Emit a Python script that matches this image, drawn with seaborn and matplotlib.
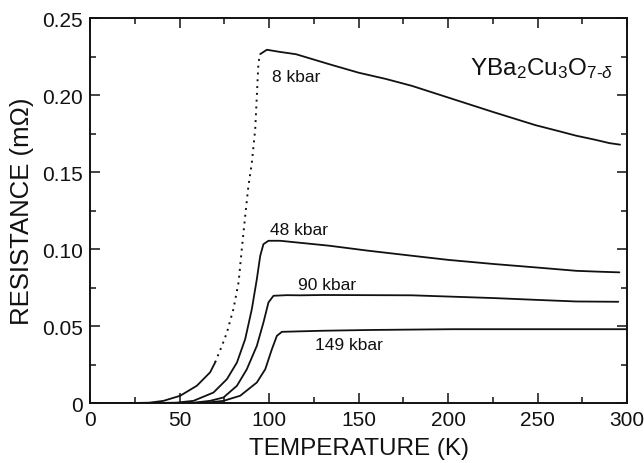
import numpy as np
import pandas as pd
import matplotlib
matplotlib.use("Agg")
import matplotlib.pyplot as plt
import seaborn as sns
from matplotlib.ticker import MultipleLocator, FixedFormatter, FixedLocator

# ---- data (T in K, R in mOhm) ----
t_8 = [0, 20, 33, 41, 50.3, 59.6, 67, 69.8, 73.6, 76.4, 80, 82.9, 84.7, 86.6, 88.4, 90.3, 92.2, 93.1, 94, 95, 98.7, 106, 115, 133.6, 150, 165, 179.6, 202.6, 225.6, 248.6, 262, 271.5, 282, 290, 296]
r_8 = [0, 0, 0.0003, 0.0015, 0.0048, 0.0113, 0.020, 0.0264, 0.0372, 0.0459, 0.061, 0.0784, 0.100, 0.1216, 0.141, 0.156, 0.178, 0.1995, 0.221, 0.2266, 0.2294, 0.228, 0.2265, 0.220, 0.2145, 0.2105, 0.206, 0.1974, 0.1888, 0.1805, 0.1765, 0.1736, 0.171, 0.1688, 0.1678]

t_48 = [0, 30, 48, 57.7, 68.9, 76.4, 82, 86.6, 90.3, 93.1, 95, 96.8, 99.6, 106.1, 115.5, 133.5, 155, 179.6, 200, 225.6, 250, 271.5, 285, 295.6]
r_48 = [0, 0, 0.0003, 0.0015, 0.0069, 0.0156, 0.0264, 0.0416, 0.061, 0.0805, 0.0957, 0.1032, 0.1054, 0.1054, 0.1043, 0.1022, 0.0990, 0.0957, 0.0930, 0.0903, 0.0880, 0.0859, 0.0853, 0.0849]

t_90 = [0, 40, 58, 67, 74.5, 82, 87.5, 93.1, 96.8, 99.6, 102.4, 109.9, 117.3, 130, 156.6, 179.6, 200, 225.6, 250, 271.5, 295]
r_90 = [0, 0, 0.0003, 0.0015, 0.0037, 0.0113, 0.022, 0.0372, 0.0524, 0.0654, 0.0697, 0.0701, 0.0700, 0.0702, 0.0701, 0.0700, 0.0692, 0.0682, 0.0670, 0.0660, 0.0658]

t_149 = [0, 40, 65, 74.5, 83.8, 93.1, 97.8, 101.5, 104.3, 107.1, 113.6, 130, 156.6, 202.6, 250, 300]
r_149 = [0, 0, 0.0003, 0.0015, 0.0048, 0.0134, 0.022, 0.035, 0.0437, 0.0463, 0.0465, 0.0470, 0.0475, 0.0480, 0.0480, 0.0480]

labels = ["8 kbar", "48 kbar", "90 kbar", "149 kbar"]
label_pos_t = [101.5, 100.3, 116.3, 125.7]
label_pos_r = [0.2123, 0.1130, 0.0773, 0.0383]

x_ticks = [0, 50, 100, 150, 200, 250, 300]
x_tick_labels = ["0", "50", "100", "150", "200", "250", "300"]
y_ticks = [0, 0.05, 0.10, 0.15, 0.20, 0.25]
y_tick_labels = ["0", "0.05", "0.10", "0.15", "0.20", "0.25"]

sns.set_style("ticks")
plt.rcParams['font.family'] = ['Liberation Sans', 'DejaVu Sans']
plt.rcParams['mathtext.fontset'] = 'custom'
plt.rcParams['mathtext.rm'] = 'Liberation Sans'
plt.rcParams['mathtext.it'] = 'Liberation Sans:italic'

fig = plt.figure(figsize=(6.44, 4.64), dpi=100)
ax = fig.add_axes([0.140, 0.129, 0.834, 0.830])

ink = "#111111"
lw = 1.3

# 8 kbar: solid at low T, dotted transition, solid in normal state
df8 = pd.DataFrame({"T": t_8, "R": r_8})
low = df8[df8["T"] <= 69.8]
trans = df8[(df8["T"] >= 69.8) & (df8["T"] <= 95)]
high = df8[df8["T"] >= 95]
sns.lineplot(data=low, x="T", y="R", ax=ax, color=ink, lw=lw, sort=False)
sns.lineplot(data=trans, x="T", y="R", ax=ax, color=ink, lw=1.4, sort=False,
             linestyle=(0, (1, 2.5)))
sns.lineplot(data=high, x="T", y="R", ax=ax, color=ink, lw=lw, sort=False)

for t, r in [(t_48, r_48), (t_90, r_90), (t_149, r_149)]:
    sns.lineplot(x=t, y=r, ax=ax, color=ink, lw=lw, sort=False)

for lab, lt, lr in zip(labels, label_pos_t, label_pos_r):
    ax.text(lt, lr, lab, fontsize=12.5, ha="left", va="center", color=ink)

ax.text(292, 0.218, r"YBa$_2$Cu$_3$O$_{7\text{-}\delta}$", fontsize=17.5, ha="right",
        va="center", color=ink)

ax.set_xlim(0, 300)
ax.set_ylim(0, 0.25)
ax.xaxis.set_major_locator(FixedLocator(x_ticks))
ax.xaxis.set_major_formatter(FixedFormatter(x_tick_labels))
ax.yaxis.set_major_locator(FixedLocator(y_ticks))
ax.yaxis.set_major_formatter(FixedFormatter(y_tick_labels))
ax.xaxis.set_minor_locator(MultipleLocator(25))
ax.yaxis.set_minor_locator(MultipleLocator(0.025))
ax.tick_params(which="both", direction="in", top=True, right=True, colors=ink,
               labelsize=15, width=1.1)
ax.tick_params(which="major", length=7, pad=5)
ax.tick_params(which="minor", length=4)
for s in ax.spines.values():
    s.set_linewidth(1.4)
    s.set_color(ink)

ax.set_xlabel("TEMPERATURE (K)", fontsize=17.5, color=ink, labelpad=6)
ax.set_ylabel("RESISTANCE (mΩ)", fontsize=18.5, color=ink, labelpad=6)

fig.savefig("out.png", dpi=100)
